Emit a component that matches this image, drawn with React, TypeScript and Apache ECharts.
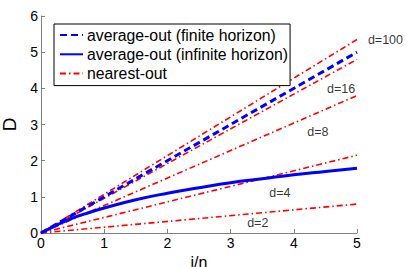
import React, { useEffect, useRef } from "react";
import * as echarts from "echarts";

const xTicks = [0, 1, 2, 3, 4, 5];
const yTicks = [0, 1, 2, 3, 4, 5, 6];

const finiteX = [0, 5];
const finiteY = [0, 5];

const infiniteX = [0, 0.25, 0.5, 0.75, 1, 1.5, 2, 2.5, 3, 3.5, 4, 4.5, 5];
const infiniteY = [0, 0.22, 0.41, 0.56, 0.69, 0.92, 1.1, 1.25, 1.39, 1.5, 1.61, 1.7, 1.79];

const nearestD = ["d=2", "d=4", "d=8", "d=16", "d=100"];
const nearestEndX = [5, 5, 5, 5, 5];
const nearestEndY = [0.8, 2.15, 3.8, 4.8, 5.35];

const labelX = [3.43, 3.78, 4.38, 4.75, 5.45];
const labelY = [0.28, 1.1, 2.8, 3.97, 5.35];

const FONT = "Liberation Sans, Arial, sans-serif";

export default function App() {
  const ref = useRef<HTMLDivElement>(null);
  useEffect(() => {
    if (!ref.current) return;
    const chart = echarts.init(ref.current, null, { renderer: "svg" });
    const redStyle = { color: "#ff0000", width: 1.6, type: [6, 3, 1.5, 3] as any };
    const nearestSeries = nearestD.map((d, i) => ({
      name: "nearest-out",
      type: "line",
      data: [
        [0, 0],
        [nearestEndX[i], nearestEndY[i]],
      ],
      showSymbol: false,
      symbol: "none",
      lineStyle: redStyle,
      itemStyle: { color: "#ff0000" },
      z: 2,
    }));
    chart.setOption({
      animation: false,
      textStyle: { fontFamily: FONT },
      grid: { left: 41, right: 50, top: 16, bottom: 34, containLabel: false, outerBoundsMode: "none" },
      legend: {
        orient: "vertical",
        left: 54,
        top: 24,
        padding: [3, 2, 4, 5],
        itemGap: 3.3,
        itemWidth: 23,
        itemHeight: 16,
        borderColor: "#000",
        borderWidth: 1,
        borderRadius: 0,
        backgroundColor: "#fff",
        itemStyle: { opacity: 0 },
        textStyle: { fontFamily: FONT, fontSize: 15.8, lineHeight: 16, color: "#000", padding: [0, 0, 0, -1] },
        data: ["average-out (finite horizon)", "average-out (infinite horizon)", "nearest-out"],
      },
      xAxis: {
        type: "value",
        min: xTicks[0],
        max: xTicks[xTicks.length - 1],
        interval: 1,
        name: "i/n",
        nameLocation: "middle",
        nameGap: 13,
        nameTextStyle: { fontFamily: FONT, fontSize: 16, lineHeight: 16, color: "#000" },
        axisLine: { lineStyle: { color: "#808080", width: 1 } },
        axisTick: { inside: true, length: 4, lineStyle: { color: "#808080" } },
        axisLabel: { fontFamily: FONT, fontSize: 14, color: "#000", margin: 3 },
        splitLine: { show: false },
      },
      yAxis: {
        type: "value",
        min: yTicks[0],
        max: yTicks[yTicks.length - 1],
        interval: 1,
        name: "D",
        nameLocation: "middle",
        nameGap: 20,
        nameTextStyle: { fontFamily: FONT, fontSize: 19, color: "#000" },
        axisLine: { show: true, lineStyle: { color: "#808080", width: 1 } },
        axisTick: { show: true, inside: true, length: 4, lineStyle: { color: "#808080" } },
        axisLabel: { fontFamily: FONT, fontSize: 14, color: "#000", margin: 3 },
        splitLine: { show: false },
      },
      series: [
        ...nearestSeries,
        {
          name: "average-out (finite horizon)",
          type: "line",
          data: finiteX.map((x, i) => [x, finiteY[i]]),
          showSymbol: false,
          symbol: "none",
          lineStyle: { color: "#0000ff", width: 3, type: [7, 4] as any },
          itemStyle: { color: "#0000ff" },
          z: 3,
        },
        {
          name: "average-out (infinite horizon)",
          type: "line",
          data: infiniteX.map((x, i) => [x, infiniteY[i]]),
          showSymbol: false,
          symbol: "none",
          smooth: true,
          lineStyle: { color: "#0000ff", width: 3 },
          itemStyle: { color: "#0000ff" },
          z: 3,
        },
        {
          name: "labels",
          type: "scatter",
          symbolSize: 0,
          data: nearestD.map((d, i) => ({ value: [labelX[i], labelY[i]], name: d })),
          label: {
            show: true,
            position: "inside",
            formatter: (p: any) => p.name,
            fontFamily: FONT,
            fontSize: 12.5,
            color: "#000",
          },
          clip: false,
          z: 4,
        },
      ],
    });
    return () => chart.dispose();
  }, []);
  return <div ref={ref} style={{ width: 407, height: 267, position: "absolute", left: 0, top: 0 }} />;
}
